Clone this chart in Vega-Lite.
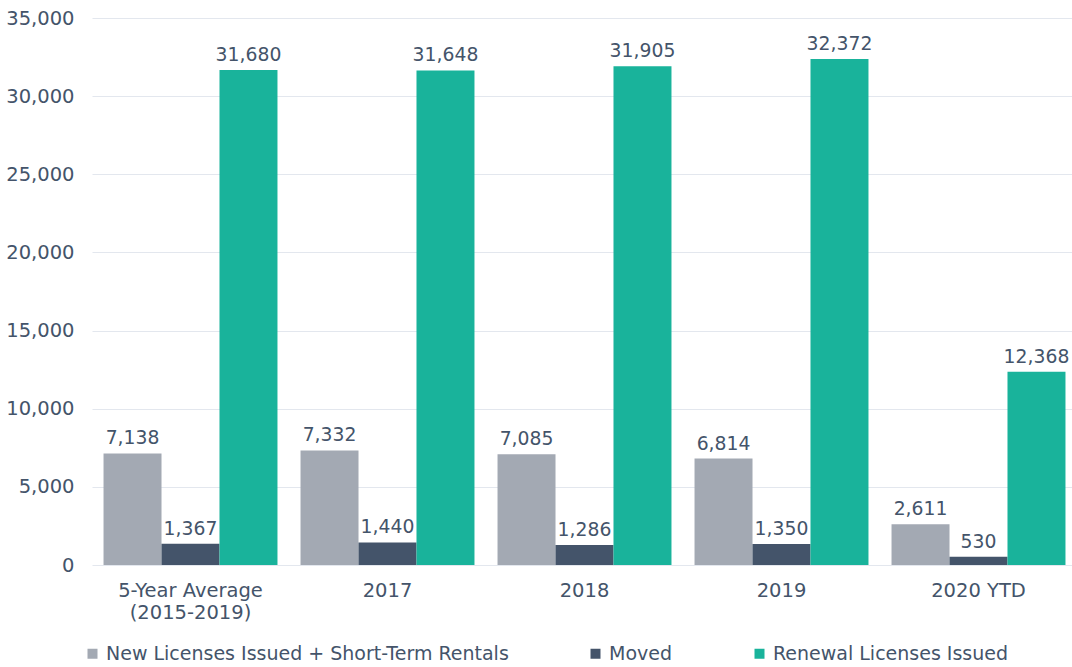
{
  "$schema": "https://vega.github.io/schema/vega-lite/v6.json",
  "autosize": "none",
  "width": 985,
  "height": 547,
  "padding": {"left": 92, "top": 18, "right": 0, "bottom": 102},
  "background": "white",
  "config": {
    "font": "DejaVu Sans",
    "view": {"stroke": null},
    "axis": {"labelFont": "DejaVu Sans", "labelColor": "#44546a", "labelFontSize": 19.5}
  },
  "data": {
    "values": [
      {"period": "5-Year Average (2015-2019)", "series": "New Licenses Issued + Short-Term Rentals", "value": 7138},
      {"period": "5-Year Average (2015-2019)", "series": "Moved", "value": 1367},
      {"period": "5-Year Average (2015-2019)", "series": "Renewal Licenses Issued", "value": 31680},
      {"period": "2017", "series": "New Licenses Issued + Short-Term Rentals", "value": 7332},
      {"period": "2017", "series": "Moved", "value": 1440},
      {"period": "2017", "series": "Renewal Licenses Issued", "value": 31648},
      {"period": "2018", "series": "New Licenses Issued + Short-Term Rentals", "value": 7085},
      {"period": "2018", "series": "Moved", "value": 1286},
      {"period": "2018", "series": "Renewal Licenses Issued", "value": 31905},
      {"period": "2019", "series": "New Licenses Issued + Short-Term Rentals", "value": 6814},
      {"period": "2019", "series": "Moved", "value": 1350},
      {"period": "2019", "series": "Renewal Licenses Issued", "value": 32372},
      {"period": "2020 YTD", "series": "New Licenses Issued + Short-Term Rentals", "value": 2611},
      {"period": "2020 YTD", "series": "Moved", "value": 530},
      {"period": "2020 YTD", "series": "Renewal Licenses Issued", "value": 12368}
    ]
  },
  "encoding": {
    "x": {
      "field": "period",
      "type": "nominal",
      "sort": null,
      "scale": {"paddingInner": 0.117, "paddingOuter": 0.0585},
      "axis": {
        "title": null,
        "labelAngle": 0,
        "ticks": false,
        "domain": false,
        "labelPadding": 16,
        "labelBaseline": "top",
        "labelLineHeight": 22,
        "labelExpr": "datum.value == '5-Year Average (2015-2019)' ? ['5-Year Average', '(2015-2019)'] : datum.value"
      }
    },
    "y": {
      "field": "value",
      "type": "quantitative",
      "scale": {"domain": [0, 35000]},
      "axis": {
        "title": null,
        "values": [0, 5000, 10000, 15000, 20000, 25000, 30000, 35000],
        "format": ",.0f",
        "ticks": false,
        "domain": false,
        "labelPadding": 18,
        "gridColor": "#e3e7ee",
        "gridWidth": 1
      }
    }
  },
  "layer": [
    {
      "mark": {"type": "bar"},
      "encoding": {
        "xOffset": {"field": "series", "type": "nominal", "sort": ["New Licenses Issued + Short-Term Rentals", "Moved", "Renewal Licenses Issued"], "scale": {"paddingInner": 0, "paddingOuter": 0}},
        "color": {
          "field": "series",
          "type": "nominal",
          "sort": ["New Licenses Issued + Short-Term Rentals", "Moved", "Renewal Licenses Issued"],
          "scale": {
            "domain": ["New Licenses Issued + Short-Term Rentals", "Moved", "Renewal Licenses Issued"],
            "range": ["#a3a9b3", "#44546a", "#19b39b"]
          },
          "legend": {
            "title": null,
            "orient": "none",
            "direction": "horizontal",
            "legendX": -9,
            "legendY": 626,
            "symbolType": "square",
            "symbolSize": 100,
            "symbolStrokeWidth": 0,
            "labelFontSize": 19,
            "labelColor": "#44546a",
            "labelOffset": 4,
            "columnPadding": 77,
            "labelLimit": 600
          }
        }
      }
    },
    {
      "mark": {"type": "text", "baseline": "alphabetic", "dy": -9, "fontSize": 18.8, "color": "#44546a"},
      "encoding": {
        "xOffset": {"field": "series", "type": "nominal", "sort": ["New Licenses Issued + Short-Term Rentals", "Moved", "Renewal Licenses Issued"]},
        "text": {"field": "value", "type": "quantitative", "format": ","}
      }
    },
    {
      "data": {"values": [{"note": ["Short-term", "rentals", "included in", "New Licenses", "and Renewals", "beginning", "February 2020."]}]},
      "mark": {"type": "text", "align": "right", "baseline": "alphabetic", "fontSize": 19, "lineHeight": 23, "color": "#44546a"},
      "encoding": {
        "x": {"datum": "2020 YTD", "bandPosition": 1},
        "y": {"datum": 33150},
        "text": {"field": "note"}
      }
    }
  ]
}
